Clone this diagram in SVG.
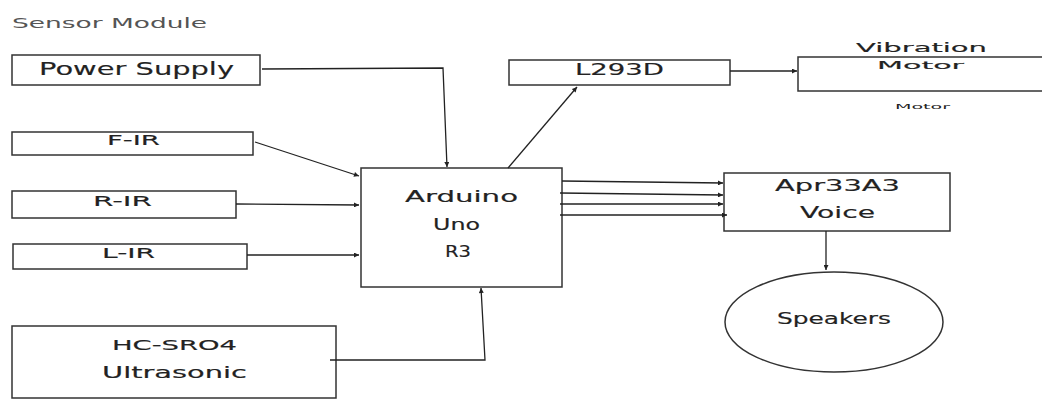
<svg xmlns="http://www.w3.org/2000/svg" width="1042" height="400" viewBox="0 0 1042 400">
<style>
.box{fill:#fff;stroke:#333;stroke-width:1.5}
.t{font-family:"DejaVu Sans",sans-serif;fill:#222;stroke:#222;stroke-width:0.15;text-anchor:start}
.c{fill:none;stroke:#222;stroke-width:1.3}
</style>
<defs>
<marker id="ah" viewBox="0 0 10 10" refX="10" refY="5" markerWidth="7" markerHeight="5" markerUnits="userSpaceOnUse" orient="auto">
<path d="M0,0 L10,5 L0,10 z" fill="#222"/>
</marker>
</defs>
<rect width="1042" height="400" fill="#fff"/>
<text class="t" x="12" y="28" font-size="14" style="fill:#555;stroke:none" textLength="195" lengthAdjust="spacingAndGlyphs">Sensor Module</text>

<g id="power">
<rect class="box" x="12" y="55" width="248" height="30"/>
<text class="t" x="39" y="75" font-size="18" textLength="195" lengthAdjust="spacingAndGlyphs">Power Supply</text>
</g>
<g id="fir">
<rect class="box" x="12" y="132" width="241" height="23"/>
<text class="t" x="107" y="145" font-size="14" textLength="53" lengthAdjust="spacingAndGlyphs">F-IR</text>
</g>
<g id="rir">
<rect class="box" x="12" y="191" width="224" height="27"/>
<text class="t" x="93" y="206" font-size="14" textLength="59" lengthAdjust="spacingAndGlyphs">R-IR</text>
</g>
<g id="lir">
<rect class="box" x="13" y="244" width="234" height="25"/>
<text class="t" x="102" y="258" font-size="14" textLength="53" lengthAdjust="spacingAndGlyphs">L-IR</text>
</g>
<g id="hcsr04">
<rect class="box" x="12" y="326" width="324" height="72"/>
<text class="t" x="112" y="350" font-size="14" textLength="125" lengthAdjust="spacingAndGlyphs">HC-SRO4</text>
<text class="t" x="102" y="378" font-size="15" textLength="145" lengthAdjust="spacingAndGlyphs">Ultrasonic</text>
</g>
<g id="arduino">
<rect class="box" x="361" y="168" width="201" height="119"/>
<text class="t" x="405" y="202" font-size="15" textLength="113" lengthAdjust="spacingAndGlyphs">Arduino</text>
<text class="t" x="433" y="230" font-size="15" textLength="47" lengthAdjust="spacingAndGlyphs">Uno</text>
<text class="t" x="445" y="257" font-size="16" textLength="26" lengthAdjust="spacingAndGlyphs">R3</text>
</g>
<g id="l293d">
<rect class="box" x="509" y="60" width="221" height="25"/>
<text class="t" x="575" y="75" font-size="15" textLength="89" lengthAdjust="spacingAndGlyphs">L293D</text>
</g>
<g id="vibration">
<rect class="box" x="798" y="57" width="260" height="34"/>
<text class="t" x="856" y="52" font-size="13" textLength="131" lengthAdjust="spacingAndGlyphs">Vibration</text>
<text class="t" x="877" y="69" font-size="11" textLength="87" lengthAdjust="spacingAndGlyphs">Motor</text>
<text class="t" x="895" y="109" font-size="7" style="stroke:none" textLength="55" lengthAdjust="spacingAndGlyphs">Motor</text>
</g>
<g id="apr">
<rect class="box" x="724" y="173" width="226" height="58"/>
<text class="t" x="775" y="191" font-size="16" textLength="125" lengthAdjust="spacingAndGlyphs">Apr33A3</text>
<text class="t" x="800" y="218" font-size="16" textLength="75" lengthAdjust="spacingAndGlyphs">Voice</text>
</g>
<g id="speakers">
<ellipse class="box" cx="834" cy="322" rx="109" ry="50"/>
<text class="t" x="777" y="324" font-size="15" textLength="114" lengthAdjust="spacingAndGlyphs">Speakers</text>
</g>

<g id="connectors">
<path class="c" d="M262,69 L443,68 L447,167" marker-end="url(#ah)"/>
<path class="c" d="M255,142 L359,176" marker-end="url(#ah)"/>
<path class="c" d="M236,204 L359,205" marker-end="url(#ah)"/>
<path class="c" d="M247,255 L359,255" marker-end="url(#ah)"/>
<path class="c" d="M330,360 L485,360 L481,288" marker-end="url(#ah)"/>
<path class="c" d="M508,168 L577,87" marker-end="url(#ah)"/>
<path class="c" d="M730,71 L797,71" marker-end="url(#ah)"/>
<path class="c" d="M562,181 L723,183" marker-end="url(#ah)"/>
<path class="c" d="M560,193 L723,195" marker-end="url(#ah)"/>
<path class="c" d="M560,204 L723,204" marker-end="url(#ah)"/>
<path class="c" d="M560,215 L727,215" marker-end="url(#ah)"/>
<path class="c" d="M826,231 L826,270" marker-end="url(#ah)"/>
</g>
</svg>
